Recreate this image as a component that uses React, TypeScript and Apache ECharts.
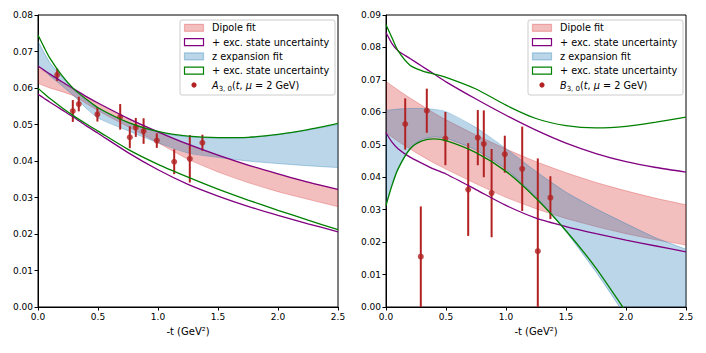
import React, { useEffect, useRef } from "react";
import * as echarts from "echarts";

const T = [0, 0.05, 0.1, 0.2, 0.3, 0.4, 0.5, 0.75, 1.0, 1.25, 1.5, 1.75, 2.0, 2.25, 2.5];

// Left panel: A_{3,0}
const A_DIPOLE_HI = [0.0655, 0.0645, 0.0635, 0.0614, 0.0594, 0.0575, 0.0557, 0.0516, 0.0479, 0.0445, 0.0415, 0.0388, 0.0364, 0.0342, 0.0321];
const A_DIPOLE_LO = [0.0613, 0.0606, 0.06, 0.059, 0.0578, 0.0558, 0.0538, 0.0494, 0.045, 0.0405, 0.037, 0.0341, 0.0316, 0.0295, 0.0275];
const A_DIPOLE_EXC_HI = [0.066, 0.0649, 0.0638, 0.0617, 0.0597, 0.0577, 0.0559, 0.0517, 0.048, 0.0446, 0.0416, 0.0389, 0.0365, 0.0342, 0.0322];
const A_DIPOLE_EXC_LO = [0.0583, 0.0572, 0.0561, 0.054, 0.0519, 0.0497, 0.0476, 0.0423, 0.0376, 0.0336, 0.0304, 0.0276, 0.0251, 0.0228, 0.0206];
const A_Z_HI = [0.0728, 0.0697, 0.0669, 0.063, 0.0595, 0.0566, 0.0544, 0.0505, 0.0479, 0.0466, 0.0463, 0.0464, 0.0472, 0.0485, 0.05];
const A_Z_LO = [0.0663, 0.0648, 0.0633, 0.0606, 0.0578, 0.0545, 0.0518, 0.0483, 0.045, 0.0422, 0.041, 0.04, 0.0393, 0.0387, 0.0382];
const A_Z_EXC_HI = [0.0745, 0.0712, 0.0681, 0.0634, 0.0597, 0.057, 0.0546, 0.0506, 0.0481, 0.0468, 0.0464, 0.0465, 0.0473, 0.0486, 0.0503];
const A_Z_EXC_LO = [0.0599, 0.0585, 0.0571, 0.0546, 0.0523, 0.0502, 0.0482, 0.0432, 0.0391, 0.0356, 0.0323, 0.0293, 0.0265, 0.0238, 0.0212];

// Right panel: B_{3,0}
const B_DIPOLE_HI = [0.0695, 0.0682, 0.0669, 0.0644, 0.0621, 0.0598, 0.0577, 0.053, 0.0487, 0.0448, 0.0414, 0.0384, 0.0358, 0.0335, 0.0315];
const B_DIPOLE_LO = [0.0537, 0.0524, 0.0511, 0.0487, 0.0465, 0.0444, 0.0425, 0.038, 0.0338, 0.0303, 0.0273, 0.0248, 0.0226, 0.0207, 0.0191];
const B_DIPOLE_EXC_HI = [0.0846, 0.0812, 0.079, 0.0766, 0.0742, 0.0718, 0.0694, 0.0641, 0.0591, 0.0545, 0.0505, 0.0473, 0.0448, 0.043, 0.0416];
const B_DIPOLE_EXC_LO = [0.0537, 0.0508, 0.0488, 0.0462, 0.0443, 0.0425, 0.041, 0.0362, 0.0313, 0.0274, 0.0248, 0.0226, 0.0206, 0.0188, 0.017];
const B_Z_HI = [0.0606, 0.0608, 0.061, 0.0612, 0.0612, 0.0609, 0.0602, 0.0553, 0.0488, 0.0418, 0.0354, 0.0303, 0.0257, 0.0213, 0.0178];
const B_Z_LO = [0.0316, 0.0378, 0.0428, 0.049, 0.0517, 0.0524, 0.052, 0.0484, 0.0425, 0.034, 0.0232, 0.0108, -0.003, -0.018, -0.034];
const B_Z_EXC_HI = [0.087, 0.083, 0.079, 0.0745, 0.0728, 0.0718, 0.0708, 0.0672, 0.0622, 0.0581, 0.0559, 0.0552, 0.0557, 0.057, 0.0585];
const B_Z_EXC_LO = [0.0313, 0.0375, 0.0425, 0.0487, 0.0512, 0.0518, 0.0513, 0.0476, 0.0418, 0.0335, 0.0235, 0.012, -0.0015, -0.015, -0.029];

// Lattice data points
const T_DATA = [0.16, 0.29, 0.34, 0.495, 0.685, 0.765, 0.815, 0.88, 0.99, 1.135, 1.265, 1.37];
const A_VAL = [0.0636, 0.0537, 0.0556, 0.0528, 0.0521, 0.0465, 0.0492, 0.0482, 0.0456, 0.0398, 0.0406, 0.045];
const A_ERR = [0.0017, 0.003, 0.002, 0.002, 0.0035, 0.003, 0.0026, 0.0035, 0.002, 0.0034, 0.0065, 0.0022];
const B_VAL = [0.0564, 0.0155, 0.0605, 0.0519, 0.0362, 0.0522, 0.0503, 0.0351, 0.0471, 0.0426, 0.0172, 0.0337];
const B_ERR = [0.0079, 0.0155, 0.0068, 0.0082, 0.0143, 0.0085, 0.0103, 0.0136, 0.0057, 0.013, 0.0286, 0.0066];

const X_TICKS_STEP = 0.5;
const Y_TICKS_STEP = 0.01;

const RED_FILL = "rgba(214,39,40,0.3)";
const RED_EDGE = "rgba(214,39,40,0.3)";
const BLUE_FILL = "rgba(31,119,180,0.3)";
const BLUE_EDGE = "rgba(31,119,180,0.35)";
const PURPLE = "#800080";
const GREEN = "#008000";
const DATA_RED = "#b22222";
const FONT = "DejaVu Sans";

const pairs = (ys: number[]) => T.map((t, i) => [t, ys[i]]);

function band(g: number, hi: number[], lo: number[], fill: string, edge: string) {
  return {
    type: "custom",
    xAxisIndex: g,
    yAxisIndex: g,
    clip: true,
    silent: true,
    data: T.map((t, i) => [t, lo[i], hi[i]]),
    encode: { x: 0, y: [1, 2] },
    renderItem: (params: any, api: any) => {
      if (params.dataIndex !== 0) return null;
      const top = T.map((t, i) => api.coord([t, hi[i]]));
      const bot = T.map((t, i) => api.coord([t, lo[i]]));
      return {
        type: "group",
        children: [
          {
            type: "polygon",
            shape: { points: top.concat(bot.slice().reverse()) },
            style: { fill, stroke: "none" },
          },
          { type: "polyline", shape: { points: top, smooth: 0.25 }, style: { fill: "none", stroke: edge, lineWidth: 1 } },
          { type: "polyline", shape: { points: bot, smooth: 0.25 }, style: { fill: "none", stroke: edge, lineWidth: 1 } },
        ],
      };
    },
  };
}

function curve(g: number, ys: number[], color: string) {
  return {
    type: "line",
    xAxisIndex: g,
    yAxisIndex: g,
    data: pairs(ys),
    symbol: "none",
    smooth: 0.25,
    lineStyle: { color, width: 1.3 },
    silent: true,
  };
}

function dataSeries(g: number, vals: number[], errs: number[]) {
  return [
    {
      type: "custom",
      xAxisIndex: g,
      yAxisIndex: g,
      data: T_DATA.map((t, i) => [t, vals[i] - errs[i], vals[i] + errs[i]]),
      encode: { x: 0, y: [1, 2] },
      silent: true,
      renderItem: (_p: any, api: any) => {
        const x = api.value(0);
        const lo = Math.max(api.value(1), 0);
        const hi = api.value(2);
        const a = api.coord([x, lo]);
        const b = api.coord([x, hi]);
        return {
          type: "line",
          shape: { x1: a[0], y1: a[1], x2: b[0], y2: b[1] },
          style: { stroke: DATA_RED, lineWidth: 2 },
        };
      },
    },
    {
      type: "scatter",
      xAxisIndex: g,
      yAxisIndex: g,
      data: T_DATA.map((t, i) => [t, vals[i]]),
      symbolSize: 6,
      itemStyle: { color: DATA_RED },
      silent: true,
    },
  ];
}

function xAxis(g: number) {
  return {
    type: "value",
    gridIndex: g,
    min: 0,
    max: 2.5,
    interval: X_TICKS_STEP,
    name: "-t (GeV²)",
    nameLocation: "middle",
    nameGap: 19,
    nameTextStyle: { fontFamily: FONT, fontSize: 10, color: "#000" },
    axisLine: { show: true, onZero: false, lineStyle: { color: "#000", width: 1 } },
    axisTick: { show: true, length: 3.5, lineStyle: { color: "#000" } },
    axisLabel: { fontFamily: FONT, fontSize: 9, color: "#000", margin: 5, formatter: (v: number) => v.toFixed(1) },
    splitLine: { show: false },
  };
}

function yAxis(g: number, max: number) {
  return {
    type: "value",
    gridIndex: g,
    min: 0,
    max,
    interval: Y_TICKS_STEP,
    axisLine: { show: true, onZero: false, lineStyle: { color: "#000", width: 1 } },
    axisTick: { show: true, length: 3.5, lineStyle: { color: "#000" } },
    axisLabel: { fontFamily: FONT, fontSize: 9, color: "#000", margin: 5, formatter: (v: number) => v.toFixed(2) },
    splitLine: { show: false },
  };
}

function legend(x0: number, letter: string) {
  const y0 = 27.8;
  const dy = 14.3;
  const font = `9.7px "${FONT}"`;
  const labels = ["Dipole fit", "+ exc. state uncertainty", "z expansion fit", "+ exc. state uncertainty"];
  const els: any[] = [
    {
      type: "rect",
      shape: { x: x0, y: 20, width: 155, height: 75, r: 2 },
      style: { fill: "rgba(255,255,255,0.85)", stroke: "#cccccc", lineWidth: 1 },
      z: 100,
    },
  ];
  const patches = [
    { fill: RED_FILL, stroke: RED_EDGE },
    { fill: "none", stroke: PURPLE },
    { fill: BLUE_FILL, stroke: BLUE_EDGE },
    { fill: "none", stroke: GREEN },
  ];
  patches.forEach((p, i) => {
    const cy = y0 + i * dy;
    els.push({
      type: "rect",
      shape: { x: x0 + 4.5, y: cy - 3.5, width: 19, height: 7 },
      style: { fill: p.fill, stroke: p.stroke, lineWidth: 1.2 },
      z: 101,
    });
    els.push({
      type: "text",
      x: x0 + 32,
      y: cy,
      style: { text: labels[i], font, fill: "#000", verticalAlign: "middle" },
      z: 101,
    });
  });
  const cy = y0 + 4 * dy;
  els.push({
    type: "circle",
    shape: { cx: x0 + 14, cy, r: 2.6 },
    style: { fill: DATA_RED },
    z: 101,
  });
  els.push({
    type: "text",
    x: x0 + 32,
    y: cy,
    style: {
      text: `{i|${letter}}{s|3, 0}{n|(}{i|t}{n|, }{i|μ}{n| = 2 GeV)}`,
      fill: "#000",
      verticalAlign: "middle",
      rich: {
        i: { fontFamily: FONT, fontSize: 9.7, fontStyle: "italic", lineHeight: 14, fill: "#000" },
        n: { fontFamily: FONT, fontSize: 9.7, lineHeight: 14, fill: "#000" },
        s: { fontFamily: FONT, fontSize: 7, lineHeight: 8, verticalAlign: "bottom", fill: "#000" },
      },
    },
    z: 101,
  });
  return els;
}

export default function App() {
  const ref = useRef<HTMLDivElement>(null);
  useEffect(() => {
    if (!ref.current) return;
    const chart = echarts.init(ref.current, null, { renderer: "svg" });
    const option: any = {
      animation: false,
      backgroundColor: "#ffffff",
      grid: [
        { left: 38, top: 15, width: 300, height: 292, show: true, borderColor: "#000", borderWidth: 1, backgroundColor: "transparent" },
        { left: 386, top: 15, width: 300, height: 292, show: true, borderColor: "#000", borderWidth: 1, backgroundColor: "transparent" },
      ],
      xAxis: [xAxis(0), xAxis(1)],
      yAxis: [yAxis(0, 0.08), yAxis(1, 0.09)],
      series: [
        band(0, A_DIPOLE_HI, A_DIPOLE_LO, RED_FILL, RED_EDGE),
        curve(0, A_DIPOLE_EXC_HI, PURPLE),
        curve(0, A_DIPOLE_EXC_LO, PURPLE),
        band(0, A_Z_HI, A_Z_LO, BLUE_FILL, BLUE_EDGE),
        curve(0, A_Z_EXC_HI, GREEN),
        curve(0, A_Z_EXC_LO, GREEN),
        ...dataSeries(0, A_VAL, A_ERR),
        band(1, B_DIPOLE_HI, B_DIPOLE_LO, RED_FILL, RED_EDGE),
        curve(1, B_DIPOLE_EXC_HI, PURPLE),
        curve(1, B_DIPOLE_EXC_LO, PURPLE),
        band(1, B_Z_HI, B_Z_LO, BLUE_FILL, BLUE_EDGE),
        curve(1, B_Z_EXC_HI, GREEN),
        curve(1, B_Z_EXC_LO, GREEN),
        ...dataSeries(1, B_VAL, B_ERR),
      ],
      graphic: { elements: [...legend(180, "A"), ...legend(528, "B")] },
    };
    chart.setOption(option);
    return () => chart.dispose();
  }, []);
  return (
    <div
      ref={ref}
      style={{ position: "fixed", left: 0, top: 0, width: 706, height: 353, background: "#fff" }}
    />
  );
}
